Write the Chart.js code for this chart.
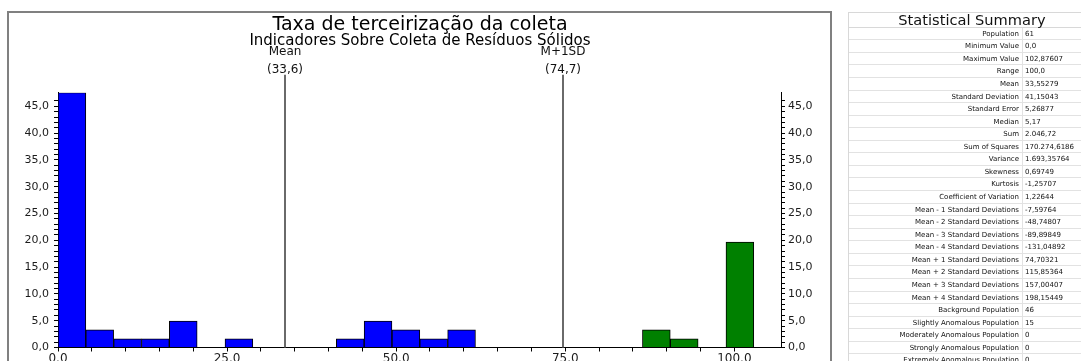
<!DOCTYPE html>
<html>
<head>
<meta charset="utf-8">
<script src="https://cdn.jsdelivr.net/npm/chart.js@4/dist/chart.umd.min.js"></script>
<style>
  html, body { margin: 0; padding: 0; background: #fff; overflow: hidden; }
  body { width: 1081px; height: 361px; position: relative; }
  #chartBox { position: absolute; left: 0; top: 0; width: 840px; height: 361px; }
  #frame { position: absolute; left: 7px; top: 11px; width: 821px; height: 400px;
           border: 2px solid #808080; border-bottom: none; pointer-events: none; }
  #summary { position: absolute; left: 848px; top: 12px; width: 246px;
             font-family: "DejaVu Sans", sans-serif; color: #111;
             border-left: 1px solid #d8d8d8; border-top: 1px solid #d8d8d8; }
  #summary .head { height: 14.7px; line-height: 14.7px; font-size: 14.6px; text-align: center;
                   border-bottom: 1px solid #d8d8d8; box-sizing: border-box; }
  #summary .row { display: flex; height: 12.57px; line-height: 12px; font-size: 7px;
                  border-bottom: 1px solid #e2e2e2; box-sizing: border-box; }
  #summary .lab { width: 174px; text-align: right; padding-right: 3px; box-sizing: border-box;
                  border-right: 1px solid #e2e2e2; }
  #summary .val { padding-left: 2px; }
</style>
</head>
<body>
<div id="chartBox"><canvas id="histChart"></canvas></div>
<div id="frame"></div>
<div id="summary"></div>
<script>
// Классы гистограммы (центры интервалов) и доли, %
const binCenters = [2.06, 6.17, 10.29, 14.40, 18.52, 22.63, 26.75, 30.86, 34.98, 39.09,
                    43.21, 47.32, 51.44, 55.55, 59.67, 63.78, 67.90, 72.01, 76.13, 80.24,
                    84.36, 88.47, 92.59, 96.70, 100.82];
const backgroundPct = [47.54, 3.28, 1.64, 1.64, 4.92, null, 1.64, null, null, null,
                       1.64, 4.92, 3.28, 1.64, 3.28, null, null, null, null, null,
                       null, null, null, null, null];
const anomalousPct = [null, null, null, null, null, null, null, null, null, null,
                      null, null, null, null, null, null, null, null, null, null,
                      null, 3.28, 1.64, null, 19.67];

// Линии среднего и M+1SD
const markerNames = ['Mean', 'M+1SD'];
const markerValues = [33.55279, 74.70321];

// Таблица статистики
const statLabels = ['Population', 'Minimum Value', 'Maximum Value', 'Range', 'Mean',
  'Standard Deviation', 'Standard Error', 'Median', 'Sum', 'Sum of Squares', 'Variance',
  'Skewness', 'Kurtosis', 'Coefficient of Variation', 'Mean - 1 Standard Deviations',
  'Mean - 2 Standard Deviations', 'Mean - 3 Standard Deviations', 'Mean - 4 Standard Deviations',
  'Mean + 1 Standard Deviations', 'Mean + 2 Standard Deviations', 'Mean + 3 Standard Deviations',
  'Mean + 4 Standard Deviations', 'Background Population', 'Slightly Anomalous Population',
  'Moderately Anomalous Population', 'Strongly Anomalous Population', 'Extremely Anomalous Population'];
const statValues = ['61', '0,0', '102,87607', '100,0', '33,55279', '41,15043', '5,26877', '5,17',
  '2.046,72', '170.274,6186', '1.693,35764', '0,69749', '-1,25707', '1,22644', '-7,59764',
  '-48,74807', '-89,89849', '-131,04892', '74,70321', '115,85364', '157,00407', '198,15449',
  '46', '15', '0', '0', '0'];

const yMax = 47.54;
const font = 'DejaVu Sans';

document.getElementById('summary').innerHTML =
  '<div class="head">Statistical Summary</div>' +
  statLabels.map((l, i) => `<div class="row"><div class="lab">${l}</div><div class="val">${statValues[i]}</div></div>`).join('');

const commaFmt = v => v.toFixed(1).replace('.', ',');

const markerPlugin = {
  id: 'markers',
  afterDatasetsDraw(chart) {
    const { ctx, chartArea, scales: { x } } = chart;
    ctx.save();
    markerValues.forEach((v, i) => {
      const px = Math.round(x.getPixelForValue(v));
      ctx.strokeStyle = '#6a6a6a';
      ctx.lineWidth = 2;
      ctx.beginPath();
      ctx.moveTo(px, chartArea.top - 18);
      ctx.lineTo(px, chartArea.bottom);
      ctx.stroke();
      ctx.fillStyle = '#111';
      ctx.font = `12px "${font}"`;
      ctx.textAlign = 'center';
      ctx.textBaseline = 'middle';
      ctx.fillText(markerNames[i], px, chartArea.top - 41);
      ctx.fillText(`(${commaFmt(v)})`, px, chartArea.top - 23);
    });
    ctx.restore();
  }
};

const tickGrid = { drawOnChartArea: false, drawTicks: true, tickLength: 4, tickColor: '#000' };
const axisBorder = { display: true, color: '#000', width: 1 };
const yTicks = (pad) => ({
  stepSize: 1, autoSkip: false, padding: pad, color: '#1c1c1c',
  font: { family: font, size: 11 },
  callback: v => (v % 5 === 0 ? commaFmt(v) : '')
});
const intTicks = s => { s.ticks = s.ticks.filter(t => Number.isInteger(t.value)); };

new Chart(document.getElementById('histChart'), {
  type: 'bar',
  data: {
    datasets: [
      { label: 'Background', data: binCenters.map((x, i) => ({ x, y: backgroundPct[i] })),
        backgroundColor: '#0000ff', borderColor: '#000', borderWidth: 1, grouped: false,
        barPercentage: 1, categoryPercentage: 1 },
      { label: 'Anomalous', data: binCenters.map((x, i) => ({ x, y: anomalousPct[i] })),
        backgroundColor: '#008000', borderColor: '#000', borderWidth: 1, grouped: false,
        barPercentage: 1, categoryPercentage: 1 }
    ]
  },
  options: {
    responsive: true,
    maintainAspectRatio: false,
    animation: false,
    layout: { padding: { top: 6, left: 10, right: 10, bottom: 0 } },
    scales: {
      x: {
        type: 'linear', min: 0, max: 106.9, offset: false,
        grid: { ...tickGrid, offset: false }, border: axisBorder,
        ticks: { stepSize: 5, autoSkip: false, maxRotation: 0, padding: 0, color: '#1c1c1c',
                 font: { family: font, size: 12 },
                 callback: v => (v % 25 === 0 ? v.toFixed(1) : '') },
        afterBuildTicks: s => { s.ticks = s.ticks.filter(t => t.value % 5 === 0); },
        afterFit: s => { s.height = 13.5; }
      },
      y: {
        position: 'left', min: 0, max: yMax,
        grid: tickGrid, border: axisBorder, ticks: yTicks(5),
        afterBuildTicks: intTicks,
        afterFit: s => { s.width = 48; }
      },
      y2: {
        position: 'right', min: 0, max: yMax,
        grid: tickGrid, border: axisBorder, ticks: yTicks(3),
        afterBuildTicks: intTicks,
        afterFit: s => { s.width = 49; }
      }
    },
    plugins: {
      legend: { display: false },
      tooltip: { enabled: false },
      title: { display: true, text: 'Taxa de terceirização da coleta', color: '#000',
               font: { family: font, size: 19, weight: 'normal', lineHeight: 0.9 },
               padding: { top: 11, bottom: 0 } },
      subtitle: { display: true, text: 'Indicadores Sobre Coleta de Resíduos Sólidos', color: '#000',
                  font: { family: font, size: 15, weight: 'normal', lineHeight: 0.9 },
                  padding: { top: 0, bottom: 45.1 } }
    }
  },
  plugins: [markerPlugin]
});
</script>
</body>
</html>
